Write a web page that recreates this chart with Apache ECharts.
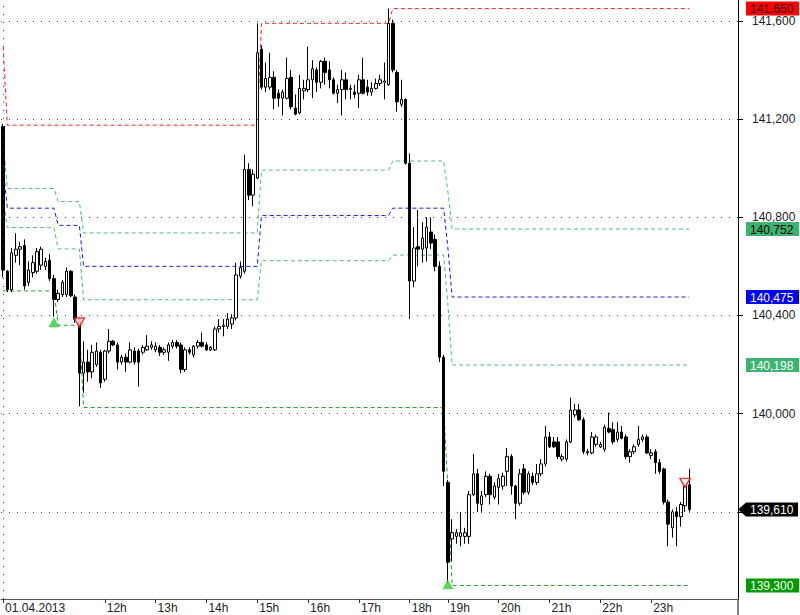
<!DOCTYPE html>
<html><head><meta charset="utf-8">
<script src="https://cdn.jsdelivr.net/npm/echarts@6/dist/echarts.min.js"></script>
<style>html,body{margin:0;padding:0;background:#fff}#c{width:800px;height:615px}</style>
</head><body><div id="c"></div>
<script>
// ---- categories (5-minute bars, 01.04.2013) ----
const times = (
 "10:00 10:05 10:10 10:15 10:20 10:25 10:30 10:35 10:40 10:45 10:50 10:55 " +
 "11:00 11:05 11:10 11:15 11:20 11:25 11:30 11:35 11:40 11:45 11:50 11:55 " +
 "12:00 12:05 12:10 12:15 12:20 12:25 12:30 12:35 12:40 12:45 12:50 12:55 " +
 "13:00 13:05 13:10 13:15 13:20 13:25 13:30 13:35 13:40 13:45 13:50 13:55 " +
 "14:00 14:05 14:10 14:15 14:20 14:25 14:30 14:35 14:40 14:45 14:50 14:55 " +
 "15:00 15:05 15:10 15:15 15:20 15:25 15:30 15:35 15:40 15:45 15:50 15:55 " +
 "16:00 16:05 16:10 16:15 16:20 16:25 16:30 16:35 16:40 16:45 16:50 16:55 " +
 "17:00 17:05 17:10 17:15 17:20 17:25 17:30 17:35 17:40 17:45 17:50 17:55 " +
 "18:00 18:05 18:10 18:15 18:20 18:25 18:30 18:35 18:40 " +
 "19:00 19:05 19:10 19:15 19:20 19:25 19:30 19:35 19:40 19:45 19:50 19:55 " +
 "20:00 20:05 20:10 20:15 20:20 20:25 20:30 20:35 20:40 20:45 20:50 20:55 " +
 "21:00 21:05 21:10 21:15 21:20 21:25 21:30 21:35 21:40 21:45 21:50 21:55 " +
 "22:00 22:05 22:10 22:15 22:20 22:25 22:30 22:35 22:40 22:45 22:50 22:55 " +
 "23:00 23:05 23:10 23:15 23:20 23:25 23:30 23:35 23:40 23:45 " +
 "23:50 23:55 00:00 00:05 00:10 00:15 00:20 00:25 00:30 00:35 00:40").split(" ");

const tickLabels = {"10:00":"01.04.2013","12:00":"12h","13:00":"13h","14:00":"14h","15:00":"15h",
 "16:00":"16h","17:00":"17h","18:00":"18h","19:00":"19h","20:00":"20h","21:00":"21h","22:00":"22h","23:00":"23h"};

// ---- OHLC ----
const openVals = [
141170,140580,140505,140645,140670,140685,140535,140575,140580,140605,
140600,140625,140550,140465,140485,140485,140580,140475,140385,140165,
140210,140170,140200,140250,140140,140255,140295,140280,140210,140230,
140210,140255,140255,140250,140260,140270,140260,140270,140250,140250,
140275,140290,140280,140180,140260,140240,140275,140290,140280,140260,
140260,140345,140355,140355,140365,140390,140560,140580,140995,140890,
140960,141485,141330,141330,141370,141305,141285,141285,141370,141245,
141225,141315,141320,141360,141400,141350,141435,141400,141360,141305,
141320,141360,141320,141310,141305,141360,141330,141310,141325,141345,
141350,141340,141590,141390,141260,141280,141020,140540,140680,140670,
140675,140740,140710,140600,140230,139720,139490,139500,139500,139500,
139500,139670,139755,139630,139670,139745,139660,139700,139705,139765,
139825,139705,139635,139775,139680,139745,139720,139755,139795,139905,
139885,139885,139815,139815,139885,139995,140015,139975,139840,139840,
139875,139865,139855,139940,139935,139895,139925,139905,139825,139845,
139875,139895,139905,139830,139845,139800,139775,139640,139535,139600,
139580,139625,139710];
const closeVals = [
140585,140505,140655,140670,140680,140520,140585,140615,140660,140670,
140620,140550,140465,140490,140535,140580,140480,140385,140165,140210,
140170,140250,140255,140125,140255,140295,140280,140210,140230,140210,
140260,140210,140210,140270,140275,140280,140275,140250,140260,140280,
140290,140275,140180,140260,140250,140275,140290,140275,140260,140270,
140345,140355,140360,140385,140390,140565,140595,140995,140890,140975,
141470,141330,141365,141370,141285,141285,141310,141365,141250,141220,
141325,141325,141360,141405,141350,141435,141390,141360,141305,141320,
141360,141320,141325,141300,141360,141305,141310,141325,141345,141360,
141355,141590,141400,141270,141280,141020,140540,140675,140670,140715,
140760,140695,140600,140230,139765,139395,139515,139515,139515,139515,
139670,139755,139635,139665,139745,139670,139705,139735,139745,139825,
139705,139635,139755,139680,139755,139720,139755,139795,139905,139865,
139865,139825,139825,139885,140015,140015,139975,139845,139845,139905,
139905,139875,139945,139925,139885,139925,139900,139825,139845,139865,
139895,139905,139840,139840,139800,139765,139640,139550,139600,139580,
139630,139705,139610];
const lowVals = [
140555,140495,140495,140615,140605,140505,140520,140555,140570,140585,
140585,140540,140395,140455,140475,140475,140475,140370,140030,140085,
140130,140145,140190,140105,140130,140245,140275,140180,140200,140170,
140205,140200,140110,140240,140255,140260,140250,140235,140240,140215,
140265,140265,140165,140170,140240,140230,140265,140270,140255,140255,
140255,140330,140315,140345,140345,140380,140550,140570,140870,140845,
140955,141320,141310,141320,141240,141250,141215,141280,141240,141215,
141220,141280,141310,141285,141310,141325,141340,141325,141300,141265,
141215,141280,141280,141285,141245,141300,141295,141295,141320,141335,
141280,141335,141390,141230,141250,141015,140385,140515,140600,140615,
140620,140670,140580,140210,139705,139310,139400,139470,139460,139470,
139470,139665,139600,139600,139660,139630,139650,139630,139690,139705,
139670,139570,139625,139670,139670,139710,139710,139745,139785,139860,
139860,139815,139805,139805,139880,139985,139970,139835,139830,139835,
139865,139860,139845,139920,139875,139885,139895,139815,139800,139835,
139865,139885,139835,139815,139755,139755,139630,139460,139495,139460,
139540,139600,139600];
const highVals = [
141180,140585,140675,140735,140700,140710,140620,140645,140675,140680,
140635,140650,140565,140505,140545,140595,140585,140485,140390,140295,
140260,140280,140290,140260,140260,140345,140300,140290,140240,140245,
140290,140270,140265,140280,140320,140295,140290,140280,140270,140290,
140300,140300,140290,140270,140270,140280,140300,140330,140290,140275,
140355,140385,140385,140410,140405,140615,140620,141055,141020,140995,
141590,141500,141430,141470,141395,141320,141320,141450,141400,141300,
141380,141360,141495,141440,141410,141440,141450,141435,141370,141340,
141400,141390,141340,141340,141380,141450,141360,141350,141365,141380,
141430,141650,141605,141400,141360,141285,141060,140760,140830,140780,
140800,140800,140730,140620,140240,139730,139570,139530,139600,139535,
139685,139835,139775,139685,139765,139755,139720,139755,139760,139860,
139835,139710,139775,139795,139765,139760,139795,139815,139950,139925,
139905,139905,139835,139895,140065,140040,140040,139985,139855,139925,
139915,139885,139955,140005,139965,139965,139950,139915,139855,139875,
139950,139915,139915,139855,139855,139815,139780,139650,139610,139620,
139640,139710,139775];

// ---- channel lines: [first bar index, value held from that bar on] ----
const upperSteps   = [[0,141495],[1,141175],[61,141590],[92,141650]];
const fibHighSteps = [[0,141115],[1,140917],[13,140864],[19,140736],[61,140992],[92,141029],[105,140907],[106,140752]];
const midSteps     = [[0,140997],[1,140837],[13,140767],[19,140600],[61,140807],[92,140837],[105,140677],[106,140475]];
const fibLowSteps  = [[0,140880],[1,140758],[13,140671],[19,140464],[61,140623],[92,140646],[105,140448],[106,140198]];
const lowerSteps   = [[0,140500],[13,140360],[19,140025],[105,139705],[106,139300]];

// ---- signals ----
const buyBars = [12, 105];
const buyVals = [140372, 139305];
const sellBars = [18, 161];
const sellVals = [140371, 139718];

// ---- axis ----
const yTicks = [139600, 140000, 140400, 140800, 141200, 141600];
const yLabelTicks = [140000, 140400, 140800, 141200, 141600]; // 139,600 is covered by the last-price tag
const tagValues = [141650, 140752, 140475, 140198, 139610, 139300];

const FONT = '"Liberation Sans", Arial, sans-serif';
const fmt = v => String(v).replace(/\B(?=(\d{3})+(?!\d))/g, ',');
const nBars = openVals.length;
function expand(steps) {
  const out = []; let k = 0;
  for (let i = 0; i < nBars; i++) {
    while (k + 1 < steps.length && steps[k + 1][0] <= i) k++;
    out.push(steps[k][1]);
  }
  return out;
}
const candles = openVals.map((o, i) => [o, closeVals[i], lowVals[i], highVals[i]]);
const showTick = (i, v) => Object.prototype.hasOwnProperty.call(tickLabels, v);

function lineSeries(name, steps, color, opacity) {
  return { name, type: 'line', data: expand(steps), symbol: 'none', silent: true, z: 2,
    lineStyle: { color, width: 1, type: [4, 3], opacity: opacity || 1 }, animation: false };
}

const chart = echarts.init(document.getElementById('c'), null, { renderer: 'svg' });
chart.setOption({
  animation: false,
  backgroundColor: '#ffffff',
  grid: { left: 1, right: 62, top: 0, bottom: 16 },
  xAxis: {
    type: 'category', data: times, boundaryGap: true,
    axisLine: { lineStyle: { color: '#555', width: 1 } },
    axisTick: { show: true, alignWithLabel: true, interval: showTick, length: 4, lineStyle: { color: '#333' } },
    axisLabel: { interval: showTick, formatter: v => tickLabels[v] || '', align: 'left', margin: 3,
      padding: [0, 0, 0, 2], fontSize: 12, color: '#222', fontFamily: FONT },
    splitLine: { show: false }
  },
  yAxis: {
    type: 'value', position: 'right', min: 139245, max: 141685,
    axisLine: { show: true, lineStyle: { color: '#000', width: 1 } },
    axisTick: { show: true, customValues: yTicks, length: 5, lineStyle: { color: '#000' } },
    axisLabel: { customValues: yLabelTicks, formatter: v => fmt(v), margin: 14, fontSize: 12, color: '#222', fontFamily: FONT },
    splitLine: { show: false }
  },
  series: [
    { name: 'grid', type: 'line', data: [], silent: true, z: 1,
      markLine: { silent: true, symbol: 'none', animation: false, label: { show: false },
        lineStyle: { type: [1, 7], color: '#444', width: 1 },
        data: yTicks.map(v => ({ yAxis: v })).concat([{ xAxis: 0 }]) } },
    lineSeries('upper', upperSteps, '#ff1a1a'),
    lineSeries('fibHigh', fibHighSteps, '#3cb371', 0.9),
    lineSeries('mid', midSteps, '#1414ff'),
    lineSeries('fibLow', fibLowSteps, '#3cb371', 0.9),
    lineSeries('lower', lowerSteps, '#22a022'),
    { name: 'OHLC', type: 'candlestick', data: candles, barWidth: 3, z: 3, silent: true,
      itemStyle: { color: '#ffffff', color0: '#000000', borderColor: '#000000', borderColor0: '#000000', borderWidth: 1 } },
    { name: 'buy', type: 'scatter', data: buyBars.map((b, i) => [b, buyVals[i]]), symbol: 'triangle',
      symbolSize: [11, 10], z: 4, silent: true, itemStyle: { color: '#33cc33' } },
    { name: 'sell', type: 'scatter', data: sellBars.map((b, i) => [b, sellVals[i]]), symbol: 'triangle',
      symbolRotate: 180, symbolSize: [10, 9], z: 4, silent: true,
      itemStyle: { color: '#ffffff', borderColor: '#ff0000', borderWidth: 1.5 } }
  ]
});

// ---- price tags on the right axis ----
const tagStyles = [
  { bg: '#ff0000', fg: '#2a0000' },
  { bg: '#3cb371', fg: '#000000' },
  { bg: '#0000ff', fg: '#ffffff' },
  { bg: '#3cb371', fg: '#ffffff' },
  { bg: '#000000', fg: '#ffffff', arrow: true },
  { bg: '#009900', fg: '#ffffff' }
];
const axisX = 738;
const els = [{ type: 'line', shape: { x1: axisX, y1: 599, x2: axisX, y2: 615 }, style: { stroke: '#000', lineWidth: 1 } }];
tagValues.forEach((v, i) => {
  const py = chart.convertToPixel({ yAxisIndex: 0 }, v);
  const s = tagStyles[i];
  if (s.arrow) {
    els.push({ type: 'polygon', z: 10, shape: { points: [[axisX, py], [746, py - 7], [798, py - 7], [798, py + 7], [746, py + 7]] },
      style: { fill: s.bg } });
  } else {
    els.push({ type: 'rect', z: 10, shape: { x: 746, y: py - 7, width: 53, height: 14 }, style: { fill: s.bg } });
  }
  els.push({ type: 'text', z: 11, style: { text: fmt(v), x: 750, y: py + 0.5, fill: s.fg, font: '12px ' + FONT, verticalAlign: 'middle' } });
});
chart.setOption({ graphic: els });
</script></body></html>
